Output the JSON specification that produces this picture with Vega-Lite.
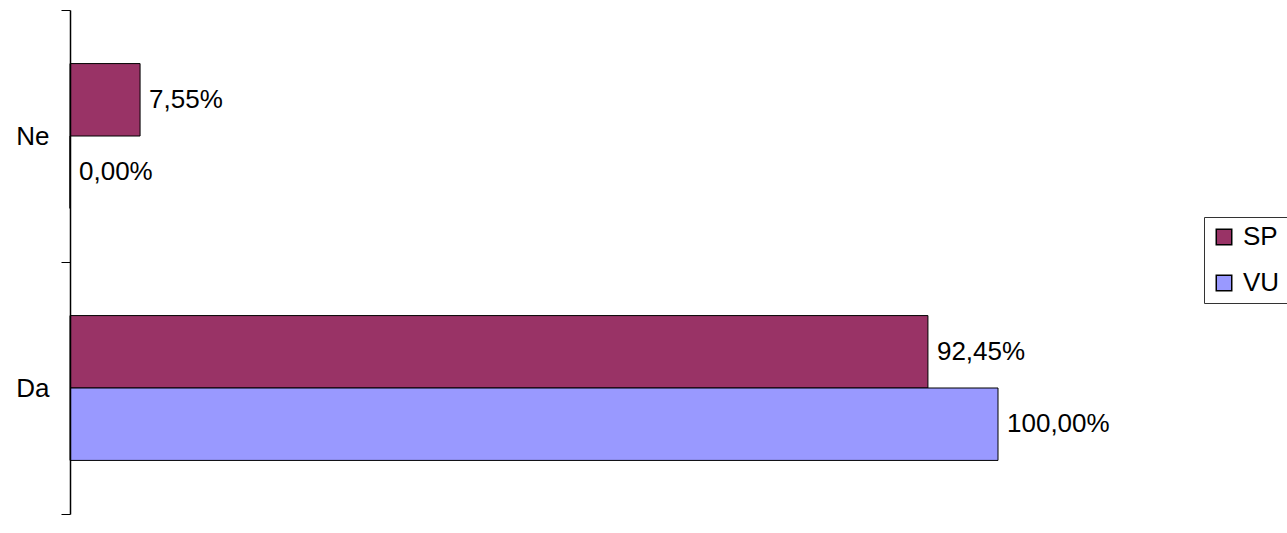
{
  "$schema": "https://vega.github.io/schema/vega-lite/v6.json",
  "autosize": {"type": "none"},
  "padding": {"left": 70, "top": 10, "right": 289, "bottom": 19},
  "width": 928,
  "height": 504,
  "background": "white",
  "config": {
    "font": "Liberation Sans",
    "view": {"stroke": null},
    "locale": {
      "number": {"decimal": ",", "thousands": ".", "grouping": [3], "currency": ["", " €"]}
    }
  },
  "data": {
    "values": [
      {"answer": "Ne", "group": "SP", "value": 0.0755},
      {"answer": "Ne", "group": "VU", "value": 0.0},
      {"answer": "Da", "group": "SP", "value": 0.9245},
      {"answer": "Da", "group": "VU", "value": 1.0}
    ]
  },
  "encoding": {
    "y": {
      "field": "answer",
      "type": "nominal",
      "sort": ["Ne", "Da"],
      "scale": {"paddingInner": 0, "paddingOuter": 0},
      "axis": {
        "title": null,
        "zindex": 1,
        "domainColor": "black",
        "domainWidth": 1.5,
        "tickColor": "black",
        "tickSize": 9,
        "tickBand": "extent",
        "labelFontSize": 26,
        "labelColor": "black",
        "labelPadding": 12,
        "labelFont": "Liberation Sans"
      }
    },
    "yOffset": {
      "field": "group",
      "type": "nominal",
      "sort": ["SP", "VU"],
      "scale": {"paddingInner": 0, "paddingOuter": 0.74}
    },
    "x": {
      "field": "value",
      "type": "quantitative",
      "scale": {"domain": [0, 1], "nice": false, "zero": true},
      "axis": null
    }
  },
  "layer": [
    {
      "mark": {"type": "bar", "stroke": "black", "strokeWidth": 1, "opacity": 1},
      "encoding": {
        "color": {
          "field": "group",
          "type": "nominal",
          "scale": {"domain": ["SP", "VU"], "range": ["#993366", "#9999FF"]},
          "legend": {
            "title": null,
            "orient": "none",
            "legendX": 1134,
            "legendY": 207,
            "strokeColor": "#333333",
            "padding": 7,
            "symbolType": "square",
            "symbolSize": 240,
            "symbolStrokeColor": "black",
            "symbolStrokeWidth": 1.5,
            "symbolOpacity": 1,
            "labelFontSize": 26,
            "labelColor": "black",
            "labelFont": "Liberation Sans",
            "labelOffset": 6,
            "rowPadding": 20
          }
        }
      }
    },
    {
      "mark": {"type": "text", "align": "left", "baseline": "middle", "dx": 9, "fontSize": 26, "color": "black", "font": "Liberation Sans"},
      "encoding": {
        "text": {"field": "value", "type": "quantitative", "format": ".2%"}
      }
    }
  ]
}
